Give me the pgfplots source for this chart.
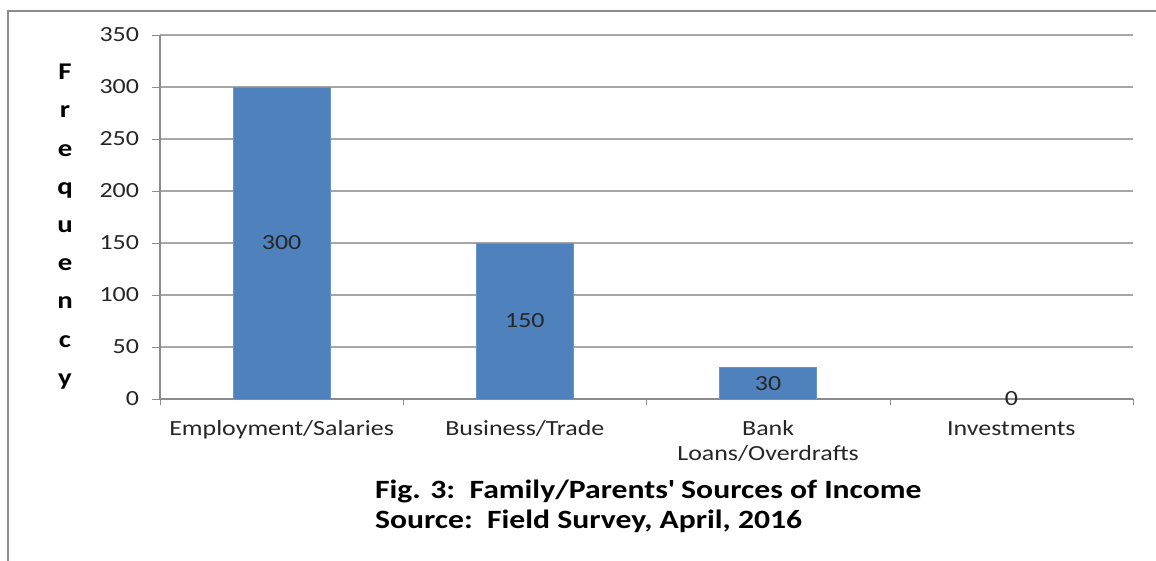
\documentclass[border=0pt]{standalone}
\usepackage{fontspec}
\setmainfont{Carlito}[FakeStretch=1.2]
\usepackage{pgfplots}
\pgfplotsset{compat=1.18}
\definecolor{barblue}{HTML}{4F81BD}
\definecolor{gridgray}{HTML}{A6A6A6}
\definecolor{axgray}{HTML}{8C8C8C}
\begin{document}
\begin{tikzpicture}
\useasboundingbox (0,0) rectangle (578pt,-280.5pt);
\draw[axgray, line width=1pt] (4pt,-280.5pt) -- (4pt,-5.5pt) -- (578pt,-5.5pt);
\begin{axis}[
  at={(80pt,-199.5pt)}, anchor=south west,
  scale only axis, width=486.5pt, height=182pt,
  xmin=-0.5, xmax=3.5, ymin=0, ymax=350,
  ytick={0,50,...,350},
  xtick={0,1,2,3},
  xticklabels={\strut Employment/Salaries, \strut Business/Trade, \strut Bank\\Loans/Overdrafts, \strut Investments},
  minor xtick={-0.5,0.5,1.5,2.5,3.5},
  major x tick style={draw=none},
  minor x tick style={axgray},
  minor tick length=3pt,
  major tick length=4pt,
  tick align=outside,
  ymajorgrids, grid style={gridgray, line width=0.6pt},
  axis x line*=bottom, axis y line*=left,
  axis line style={axgray, line width=0.6pt, -},
  y tick style={axgray},
  tick label style={font=\fontsize{10.8}{12.5}\selectfont, text=black!85},
  xticklabel style={align=center, yshift=-2pt},
  yticklabel style={xshift=-3pt},
  /pgf/number format/assume math mode=true,
  clip=false,
]
\addplot[ybar, bar width=48.5pt, fill=barblue, draw=barblue!85!white] coordinates {(0,300) (1,150) (2,30) (3,0)};
\addplot[draw=none, mark=none, nodes near coords, point meta=explicit symbolic,
  every node near coord/.append style={anchor=center, font=\fontsize{10.8}{12}\selectfont, text=black!85}]
  coordinates {(0,150) [300] (1,75) [150] (2,15) [30] (3,0) [0]};
\end{axis}
\node[font=\bfseries\fontsize{12}{19.1}\selectfont, align=center, anchor=north] at (32.5pt,-28.5pt) {F\\r\\e\\q\\u\\e\\n\\c\\y};
\node[font=\bfseries\fontsize{13.2}{15}\selectfont, anchor=west] at (184pt,-245.5pt) {Fig. 3:\ \ Family/Parents\textquotesingle\ Sources of Income};
\node[font=\bfseries\fontsize{13.2}{15}\selectfont, anchor=west] at (184pt,-260.5pt) {Source:\ \ Field Survey, April, 2016};
\end{tikzpicture}
\end{document}
